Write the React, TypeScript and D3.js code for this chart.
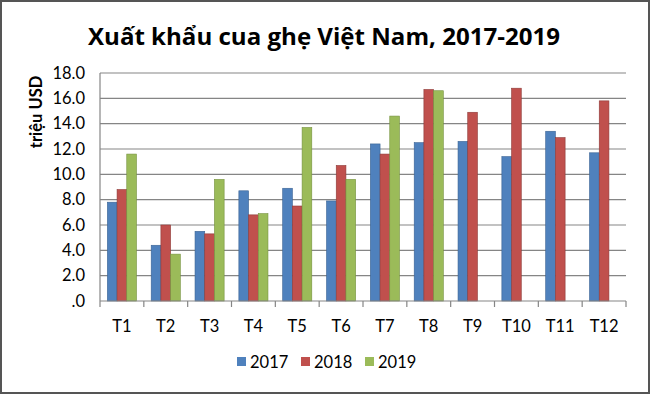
import React from "react";
import * as d3 from "d3";

const months = ["T1","T2","T3","T4","T5","T6","T7","T8","T9","T10","T11","T12"];
const series = ["2017","2018","2019"];
const values2017 = [7.8, 4.4, 5.5, 8.7, 8.9, 7.9, 12.4, 12.5, 12.6, 11.4, 13.4, 11.7];
const values2018 = [8.8, 6.0, 5.3, 6.8, 7.5, 10.7, 11.6, 16.7, 14.9, 16.8, 12.9, 15.8];
const values2019: (number | null)[] = [11.6, 3.7, 9.6, 6.9, 13.7, 9.6, 14.6, 16.6, null, null, null, null];
const yTicks = [0, 2, 4, 6, 8, 10, 12, 14, 16, 18];
const colors = ["#4F81BD", "#C0504D", "#9BBB59"];
const strokes = ["#3A6393", "#8E3B39", "#76923F"];

const W = 650, H = 394;
const plot = { left: 100, right: 626, top: 73, bottom: 301 };
const font = "Lato, 'Open Sans', sans-serif";

export default function App() {
  const x = d3.scaleBand<string>().domain(months).range([plot.left, plot.right]).paddingInner(0).paddingOuter(0);
  const barW = 9.7;
  const sub = d3.scaleBand<string>().domain(series).range([0, barW * 3]);
  const y = d3.scaleLinear().domain([0, 18]).range([plot.bottom, plot.top]);
  const all = [values2017, values2018, values2019];
  const fmt = (v: number) => (v === 0 ? ".0" : d3.format(".1f")(v));
  const boundaries = d3.range(months.length + 1).map(i => plot.left + i * x.bandwidth());

  return (
    <svg width={W} height={H} style={{ position: "absolute", left: 0, top: 0, background: "#fff" }}>
      <rect x={1} y={1} width={W - 2} height={H - 2} fill="#fff" stroke="#555" strokeWidth={2} />
      <text x={324} y={45} textAnchor="middle" fontFamily="'Open Sans', sans-serif" fontWeight="bold" fontSize={23} fill="#000" textLength={472} lengthAdjust="spacingAndGlyphs">
        Xuất khẩu cua ghẹ Việt Nam, 2017-2019
      </text>
      {yTicks.map(t => (
        <g key={t}>
          {t > 0 && <line x1={plot.left} x2={plot.right} y1={y(t)} y2={y(t)} stroke="#858585" strokeWidth={1.2} />}
          <text x={85} y={y(t) + 5.5} textAnchor="end" fontFamily={font} fontSize={16.5} fill="#000">{fmt(t)}</text>
        </g>
      ))}
      <line x1={plot.left} x2={plot.left} y1={plot.top} y2={plot.bottom} stroke="#858585" strokeWidth={1.2} />
      {all.map((vals, si) =>
        vals.map((v, i) =>
          v == null ? null : (
            <rect key={`${si}-${i}`}
              x={x(months[i])! + (x.bandwidth() - barW * 3) / 2 + sub(series[si])!}
              y={y(v)} width={sub.bandwidth()} height={y(0) - y(v)}
              fill={colors[si]} stroke={strokes[si]} strokeWidth={0.6} />
          )
        )
      )}
      <line x1={plot.left} x2={plot.right} y1={plot.bottom} y2={plot.bottom} stroke="#858585" strokeWidth={1.2} />
      {boundaries.map((bx, i) => (
        <line key={i} x1={bx} x2={bx} y1={plot.bottom} y2={plot.bottom + 6} stroke="#858585" strokeWidth={1.2} />
      ))}
      {months.map(m => (
        <text key={m} x={x(m)! + x.bandwidth() / 2} y={332} textAnchor="middle" fontFamily={font} fontSize={16.5} fill="#000">{m}</text>
      ))}
      <text transform={`translate(42,${112}) rotate(-90)`} textAnchor="middle" fontFamily={font} fontWeight="bold" fontSize={16.5} fill="#000">triệu USD</text>
      {series.map((s, i) => (
        <g key={s} transform={`translate(${237 + i * 64},0)`}>
          <rect x={0} y={357} width={9} height={9} fill={colors[i]} />
          <text x={13} y={368} fontFamily={font} fontSize={16.5} fill="#000">{s}</text>
        </g>
      ))}
    </svg>
  );
}
